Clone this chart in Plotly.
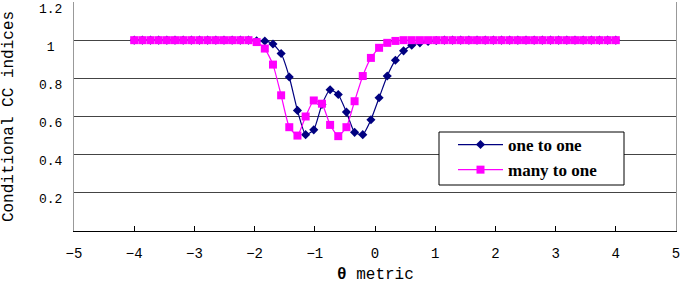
import numpy as np
import plotly.graph_objects as go

theta = list(np.linspace(-4, 4, 60))

one_to_one = [1.0]*15 + [0.997, 0.996, 0.98, 0.93, 0.807, 0.632, 0.505, 0.53, 0.663, 0.74,
                         0.715, 0.623, 0.517, 0.505, 0.583, 0.698, 0.812, 0.895, 0.944, 0.974,
                         0.986, 0.993, 0.998] + [1.0]*22
many_to_one = [1.0]*15 + [0.99, 0.956, 0.872, 0.711, 0.544, 0.50, 0.60, 0.684, 0.667, 0.556,
                          0.497, 0.544, 0.68, 0.812, 0.907, 0.96, 0.986, 0.996] + [1.0]*27

x_ticks = [-5, -4, -3, -2, -1, 0, 1, 2, 3, 4, 5]
x_tick_labels = ["\u22125", "\u22124", "\u22123", "\u22122", "\u22121", "0", "1", "2", "3", "4", "5"]
y_ticks = [0.2, 0.4, 0.6, 0.8, 1.0, 1.2]
y_tick_labels = ["0.2", "0.4", "0.6", "0.8", "\u00a01\u00a0", "1.2"]
x_title = "<b>θ</b> metric"
y_title = "Conditional CC indices"

mono = "Liberation Mono"

W, H = 680, 284
L, R, T, B = 74, 4, 2, 53
pw, ph = W - L - R, H - T - B

def px_x(p):
    return (p - L) / pw

def px_y(p):
    return (H - B - p) / ph

fig = go.Figure()
fig.add_trace(go.Scatter(
    x=theta, y=one_to_one, name="one to one", mode="lines+markers",
    line=dict(color="#000080", width=1.2, shape="spline", smoothing=0.5),
    marker=dict(symbol="diamond", size=7, color="#000080"),
))
fig.add_trace(go.Scatter(
    x=theta, y=many_to_one, name="many to one", mode="lines+markers",
    line=dict(color="#FF00FF", width=1.2, shape="spline", smoothing=0.5),
    marker=dict(symbol="square", size=8, color="#FF00FF"),
))

# legend frame
fig.add_shape(type="rect", xref="paper", yref="paper",
              x0=px_x(439), x1=px_x(624), y0=px_y(185), y1=px_y(132),
              fillcolor="white", line=dict(color="black", width=1), layer="above")

fig.add_annotation(text=x_title, xref="paper", yref="paper", x=0.5, y=px_y(275),
                   xanchor="center", yanchor="middle", showarrow=False,
                   font=dict(family=mono, size=16, color="black"))

fig.update_layout(
    width=W, height=H,
    margin=dict(l=L, r=R, t=T, b=B),
    paper_bgcolor="white", plot_bgcolor="white",
    font=dict(family=mono, size=13, color="black"),
    legend=dict(
        x=px_x(453), y=px_y(127), xanchor="left", yanchor="top",
        bgcolor="rgba(0,0,0,0)", borderwidth=0,
        font=dict(family="Liberation Serif", size=17, color="black", weight="bold"),
        tracegroupgap=0, itemwidth=45,
    ),
    showlegend=True,
)
fig.update_xaxes(
    range=[-5, 5], tickvals=x_ticks, ticktext=x_tick_labels,
    ticks="inside", ticklen=5, tickcolor="black",
    showline=True, linecolor="black", linewidth=1, mirror=False,
    showgrid=False, zeroline=False, automargin=False, ticklabeloverflow="allow",
    tickfont=dict(family=mono, size=14), ticklabelstandoff=9,
)
fig.update_yaxes(
    range=[0, 1.2], tickvals=y_ticks, ticktext=y_tick_labels, ticks="",
    showline=True, linecolor="#999999", linewidth=1, mirror=True,
    showgrid=True, gridcolor="#444444", gridwidth=1, zeroline=False, automargin=False,
    ticklabeloverflow="allow",
    tickfont=dict(family=mono, size=13), ticklabelstandoff=8, ticklabelshift=6,
    title=dict(text=y_title, font=dict(family=mono, size=16), standoff=22),
)

fig.write_html("out.html", config={"displayModeBar": False},
               post_script="document.body.style.margin='0';document.body.style.padding='0';")
